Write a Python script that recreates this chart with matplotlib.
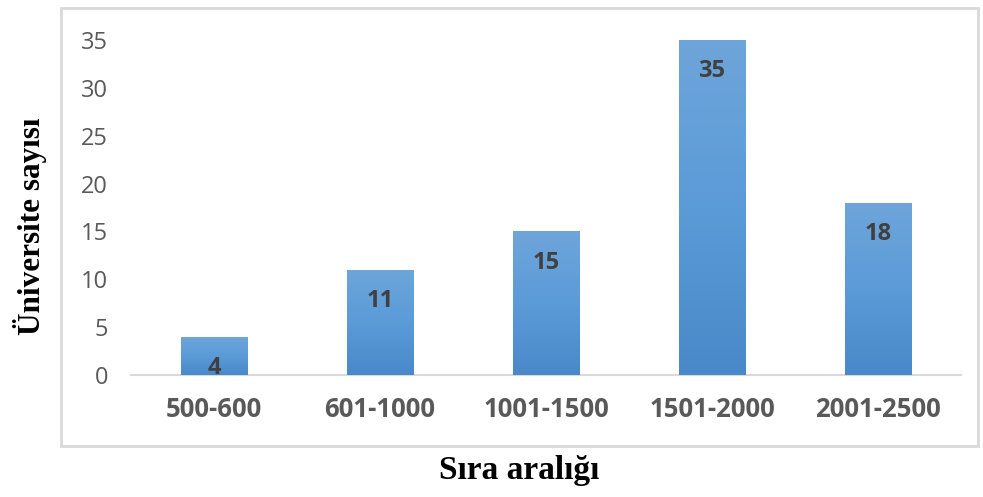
import matplotlib
matplotlib.use("Agg")
import matplotlib.pyplot as plt
from matplotlib.patches import Rectangle
from matplotlib.colors import LinearSegmentedColormap
import numpy as np

categories = ["500-600", "601-1000", "1001-1500", "1501-2000", "2001-2500"]
values = [4, 11, 15, 35, 18]
yticks = [0, 5, 10, 15, 20, 25, 30, 35]

fig = plt.figure(figsize=(9.83, 4.97), dpi=100)
ax = fig.add_axes([131/983, 1-375/497, (961-131)/983, (375-40)/497])

x = np.arange(len(categories))
bars = ax.bar(x, values, width=0.4, color="#5B9BD5", zorder=2)

# gradient fill
grad = np.linspace(0, 1, 256).reshape(-1, 1)
cmap = LinearSegmentedColormap.from_list("g", ["#4A89C9", "#5B9BD8", "#6EA5DA"])
for b in bars:
    x0, y0 = b.get_x(), b.get_y()
    w, h = b.get_width(), b.get_height()
    im = ax.imshow(grad, cmap=cmap, aspect="auto", origin="lower",
                   extent=[x0, x0 + w, y0, y0 + h], zorder=3)
    im.set_clip_path(b)

for xi, v in zip(x, values):
    ax.text(xi, v - 3.25, str(v), ha="center", va="center", fontsize=17,
            fontweight="bold", color="#404040", family="Open Sans", zorder=5)

ax.set_xlim(-0.5, len(categories) - 0.5)
ax.set_ylim(0, 35)
ax.set_yticks(yticks)
ax.set_xticks(x)
ax.set_xticklabels(categories, fontsize=18.5, fontweight="bold", color="#595959", family="Open Sans")
ax.tick_params(axis="y", labelsize=17, labelcolor="#595959", length=0, pad=16.5)
ax.tick_params(axis="x", length=0, pad=15)
for t in ax.get_yticklabels():
    t.set_family("Open Sans")
for s in ["top", "right", "left"]:
    ax.spines[s].set_visible(False)
ax.spines["bottom"].set_color("#D9D9D9")
ax.spines["bottom"].set_linewidth(1.5)

# outer chart border
fig.patches.append(Rectangle((61/983, 1-446/497), (978-61)/983, (446-8)/497,
                             transform=fig.transFigure, fill=False,
                             edgecolor="#D9D9D9", linewidth=2))

fig.text(30/983, 1-226/497, "Üniversite sayısı", rotation=90, ha="center", va="center",
         fontsize=22.5, fontweight="bold", family="Liberation Serif")
fig.text(519/983, 1-471/497, "Sıra aralığı", ha="center", va="center",
         fontsize=24, fontweight="bold", family="Liberation Serif")

fig.savefig("out.png", dpi=100)
